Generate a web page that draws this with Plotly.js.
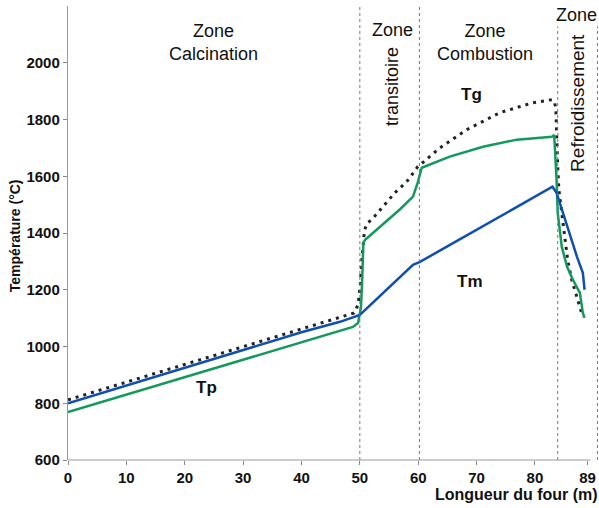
<!DOCTYPE html>
<html>
<head>
<meta charset="utf-8">
<script src="https://cdn.plot.ly/plotly-3.0.1.min.js"></script>
<style>html,body{margin:0;padding:0;background:#fff;}#chart{width:599px;height:508px;}</style>
</head>
<body>
<div id="chart"></div>
<script>
// Tg : gas temperature (black dotted)
const tgX = [0, 10, 20, 30, 40, 47, 49, 49.7, 50.1, 50.3, 50.5, 50.8, 51.3, 52, 53.8, 56, 58, 59.9, 63.7, 68.3, 74, 79.6, 82.9, 83.4, 83.6, 83.7, 83.9, 84.1, 84.6, 85.1, 85.6, 86.3, 87.2, 88.2];
const tgY = [812, 874, 936, 998, 1060, 1103, 1118, 1147, 1224, 1295, 1351, 1411, 1436, 1446, 1489, 1542, 1580, 1633, 1700, 1764, 1824, 1859, 1870, 1859, 1824, 1729, 1633, 1552, 1471, 1376, 1305, 1235, 1175, 1104];
// Tm : blue
const tmX = [0, 10, 20, 30, 40, 46.6, 50, 59.1, 60.3, 63.7, 70, 76, 83, 83.7, 84.8, 86, 87.2, 88.2, 88.5];
const tmY = [800, 862, 925, 987, 1050, 1087, 1111, 1288, 1298, 1338, 1412, 1482, 1563, 1542, 1471, 1386, 1316, 1260, 1200];
// Tp : green
const tpX = [0, 10, 20, 30, 40, 46.6, 48.8, 49.7, 50.2, 50.4, 50.6, 50.9, 53.4, 56.8, 59.1, 59.9, 60.6, 65.4, 71.1, 76.9, 82.9, 83.3, 83.7, 83.9, 84.6, 85.5, 86.5, 87.7, 88.2, 88.5];
const tpY = [769, 831, 893, 955, 1016, 1058, 1069, 1083, 1140, 1235, 1365, 1376, 1422, 1482, 1528, 1577, 1630, 1669, 1704, 1729, 1739, 1745, 1588, 1471, 1351, 1281, 1235, 1189, 1118, 1101];

const xTicks = [0, 10, 20, 30, 40, 50, 60, 70, 80, 89];
const yTicks = [600, 800, 1000, 1200, 1400, 1600, 1800, 2000];
const zoneLines = [50, 60.2, 83.9, 90.7];

const traces = [
  {x: tgX, y: tgY, mode: 'lines', line: {color: '#222', width: 3, dash: '3px,5px'}, hoverinfo: 'none'},
  {x: tpX, y: tpY, mode: 'lines', line: {color: '#12995c', width: 2.5}, hoverinfo: 'none'},
  {x: tmX, y: tmY, mode: 'lines', line: {color: '#0d4fb3', width: 2.5}, hoverinfo: 'none'}
];

const shapes = zoneLines.map((v, i) => ({
  type: 'line', xref: 'x', yref: 'paper', x0: v, x1: v, y0: 0, y1: i < 2 ? 1 : 0.955,
  line: {color: '#777', width: 1, dash: '3px,3px'}
}));
shapes.push({type: 'line', xref: 'x', yref: 'paper', x0: 0, x1: 89.5, y0: 0, y1: 0, line: {color: '#999', width: 1.2}});

const sans = 'Liberation Sans, Arial, sans-serif';
const fz = {family: sans, size: 18, color: '#111'};
const fb = {family: sans, size: 17, color: '#111', weight: 'bold'};
const annotations = [
  {text: 'Zone<br>Calcination', x: 25, y: 2071},
  {text: 'Zone', x: 55.6, y: 2117},
  {text: 'transitoire', x: 55.4, y: 1916, textangle: -90},
  {text: 'Zone<br>Combustion', x: 71.4, y: 2071},
  {text: 'Zone', x: 87.2, y: 2170},
  {text: 'Refroidissement', x: 87.4, y: 1859, textangle: -90, font: Object.assign({}, fz, {size: 19})},
  {text: '<b>Tg</b>', x: 69.2, y: 1887, font: fb},
  {text: '<b>Tm</b>', x: 68.8, y: 1230, font: fb},
  {text: '<b>Tp</b>', x: 23.8, y: 855, font: fb}
].map(a => Object.assign({xref: 'x', yref: 'y', showarrow: false, font: fz, align: 'center'}, a));
annotations.push({text: '<b>Longueur du four (m)</b>', xref: 'paper', yref: 'paper', x: 1.003, y: -0.077,
  xanchor: 'right', yanchor: 'middle', showarrow: false,
  font: {family: sans, size: 16, color: '#111'}});
annotations.push({text: '<b>Température (°C)</b>', xref: 'paper', yref: 'paper', x: -0.1, y: 0.493,
  xanchor: 'center', yanchor: 'middle', textangle: -90, showarrow: false,
  font: {family: sans, size: 14, color: '#111'}});

const layout = {
  width: 599, height: 508,
  margin: {l: 68, r: 1, t: 6, b: 48},
  paper_bgcolor: '#fff', plot_bgcolor: '#fff',
  showlegend: false,
  font: {family: sans, color: '#111'},
  xaxis: {
    range: [0, 90.8], tickvals: xTicks, ticktext: xTicks.map(String),
    showgrid: false, zeroline: false, showline: false,
    ticks: 'outside', ticklen: 4, tickcolor: '#888',
    tickfont: {family: sans, size: 15, weight: 'bold', color: '#111'}
  },
  yaxis: {
    range: [600, 2200], tickvals: yTicks, ticktext: yTicks.map(String),
    showgrid: false, zeroline: false, showline: true, linecolor: '#999', linewidth: 1.2,
    ticks: 'outside', ticklen: 4, tickcolor: '#888',
    tickfont: {family: sans, size: 15, weight: 'bold', color: '#111'}
  },
  shapes: shapes,
  annotations: annotations
};

Plotly.newPlot('chart', traces, layout, {displayModeBar: false, staticPlot: true});
</script>
</body>
</html>
